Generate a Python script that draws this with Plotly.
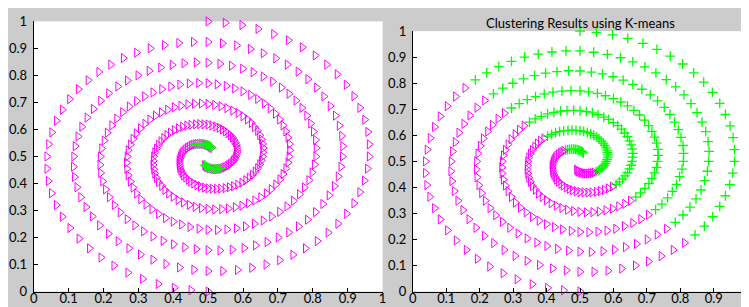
import plotly.graph_objects as go

# ---------------- data ----------------
# spiral A: outer end at top (0.5, 1.0), winding clockwise to the centre
spiral_a_x = [
    0.500, 0.549, 0.597, 0.643, 0.688, 0.730, 0.770, 0.807, 0.840, 0.870, 0.896, 0.918, 0.935, 0.949, 0.958, 0.962, 0.962,
    0.957, 0.948, 0.935, 0.918, 0.897, 0.872, 0.844, 0.813, 0.779, 0.743, 0.705, 0.666, 0.625, 0.584, 0.542, 0.500,
    0.459, 0.418, 0.379, 0.342, 0.306, 0.273, 0.242, 0.214, 0.189, 0.168, 0.150, 0.135, 0.124, 0.117, 0.114, 0.115,
    0.119, 0.127, 0.138, 0.153, 0.171, 0.192, 0.215, 0.241, 0.269, 0.299, 0.331, 0.364, 0.397, 0.431, 0.466, 0.500,
    0.534, 0.567, 0.599, 0.629, 0.658, 0.685, 0.710, 0.732, 0.752, 0.769, 0.783, 0.794, 0.802, 0.808, 0.810, 0.809,
    0.805, 0.798, 0.789, 0.776, 0.762, 0.745, 0.726, 0.705, 0.682, 0.658, 0.633, 0.607, 0.581, 0.554, 0.527, 0.500,
    0.474, 0.448, 0.424, 0.400, 0.378, 0.358, 0.339, 0.322, 0.307, 0.295, 0.285, 0.277, 0.271, 0.267, 0.266, 0.268,
    0.271, 0.277, 0.285, 0.294, 0.306, 0.319, 0.333, 0.349, 0.366, 0.384, 0.403, 0.422, 0.442, 0.461, 0.481, 0.500,
    0.519, 0.537, 0.554, 0.571, 0.586, 0.600, 0.613, 0.624, 0.633, 0.642, 0.648, 0.653, 0.656, 0.658, 0.657, 0.656,
    0.653, 0.648, 0.642, 0.635, 0.627, 0.618, 0.608, 0.597, 0.585, 0.573, 0.561, 0.549, 0.536, 0.524, 0.512, 0.500,
    0.489, 0.478, 0.468, 0.459, 0.450, 0.443, 0.436, 0.430, 0.426, 0.422, 0.419, 0.418, 0.417, 0.417, 0.419, 0.421,
    0.423, 0.427, 0.431, 0.436, 0.441, 0.446, 0.452, 0.457, 0.463, 0.469, 0.475, 0.481, 0.486, 0.491, 0.496, 0.500,
    0.504, 0.507, 0.510,
]
spiral_a_y = [
    1.000, 0.995, 0.986, 0.972, 0.953, 0.930, 0.904, 0.874, 0.840, 0.804, 0.765, 0.723, 0.680, 0.636, 0.591, 0.545, 0.500,
    0.455, 0.411, 0.368, 0.327, 0.288, 0.251, 0.218, 0.187, 0.160, 0.136, 0.116, 0.100, 0.088, 0.080, 0.076, 0.076,
    0.081, 0.089, 0.102, 0.118, 0.137, 0.160, 0.186, 0.214, 0.245, 0.278, 0.313, 0.349, 0.386, 0.424, 0.462, 0.500,
    0.538, 0.574, 0.610, 0.644, 0.676, 0.706, 0.734, 0.759, 0.781, 0.800, 0.817, 0.829, 0.839, 0.845, 0.848, 0.847,
    0.843, 0.836, 0.825, 0.812, 0.796, 0.777, 0.755, 0.732, 0.707, 0.680, 0.651, 0.622, 0.592, 0.561, 0.531, 0.500,
    0.470, 0.441, 0.412, 0.385, 0.360, 0.336, 0.315, 0.295, 0.278, 0.263, 0.251, 0.241, 0.234, 0.230, 0.228, 0.229,
    0.233, 0.239, 0.248, 0.259, 0.272, 0.287, 0.304, 0.322, 0.342, 0.363, 0.385, 0.407, 0.430, 0.454, 0.477, 0.500,
    0.523, 0.544, 0.565, 0.585, 0.604, 0.621, 0.637, 0.651, 0.663, 0.673, 0.682, 0.688, 0.693, 0.695, 0.696, 0.694,
    0.691, 0.686, 0.679, 0.670, 0.661, 0.649, 0.637, 0.624, 0.609, 0.595, 0.579, 0.563, 0.547, 0.531, 0.516, 0.500,
    0.485, 0.471, 0.457, 0.444, 0.432, 0.421, 0.412, 0.403, 0.396, 0.390, 0.386, 0.383, 0.381, 0.380, 0.381, 0.382,
    0.385, 0.389, 0.394, 0.400, 0.407, 0.414, 0.422, 0.430, 0.439, 0.448, 0.457, 0.466, 0.475, 0.484, 0.492, 0.500,
    0.508, 0.515, 0.521, 0.527, 0.532, 0.536, 0.540, 0.543, 0.545, 0.546, 0.547, 0.547, 0.546, 0.545, 0.543, 0.541,
    0.539, 0.536, 0.532,
]

# spiral B: outer end at bottom (0.5, 0.0)
spiral_b_x = [
    0.500, 0.451, 0.403, 0.357, 0.312, 0.270, 0.230, 0.193, 0.160, 0.130, 0.104, 0.082, 0.065, 0.051, 0.042, 0.038, 0.038,
    0.043, 0.052, 0.065, 0.082, 0.103, 0.128, 0.156, 0.187, 0.221, 0.257, 0.295, 0.334, 0.375, 0.416, 0.458, 0.500,
    0.541, 0.582, 0.621, 0.658, 0.694, 0.727, 0.758, 0.786, 0.811, 0.832, 0.850, 0.865, 0.876, 0.883, 0.886, 0.885,
    0.881, 0.873, 0.862, 0.847, 0.829, 0.808, 0.785, 0.759, 0.731, 0.701, 0.669, 0.636, 0.603, 0.569, 0.534, 0.500,
    0.466, 0.433, 0.401, 0.371, 0.342, 0.315, 0.290, 0.268, 0.248, 0.231, 0.217, 0.206, 0.198, 0.192, 0.190, 0.191,
    0.195, 0.202, 0.211, 0.224, 0.238, 0.255, 0.274, 0.295, 0.318, 0.342, 0.367, 0.393, 0.419, 0.446, 0.473, 0.500,
    0.526, 0.552, 0.576, 0.600, 0.622, 0.642, 0.661, 0.678, 0.693, 0.705, 0.715, 0.723, 0.729, 0.733, 0.734, 0.732,
    0.729, 0.723, 0.715, 0.706, 0.694, 0.681, 0.667, 0.651, 0.634, 0.616, 0.597, 0.578, 0.558, 0.539, 0.519, 0.500,
    0.481, 0.463, 0.446, 0.429, 0.414, 0.400, 0.387, 0.376, 0.367, 0.358, 0.352, 0.347, 0.344, 0.342, 0.343, 0.344,
    0.347, 0.352, 0.358, 0.365, 0.373, 0.382, 0.392, 0.403, 0.415, 0.427, 0.439, 0.451, 0.464, 0.476, 0.488, 0.500,
    0.511, 0.522, 0.532, 0.541, 0.550, 0.557, 0.564, 0.570, 0.574, 0.578, 0.581, 0.582, 0.583, 0.583, 0.581, 0.579,
    0.577, 0.573, 0.569, 0.564, 0.559, 0.554, 0.548, 0.543, 0.537, 0.531, 0.525, 0.519, 0.514, 0.509, 0.504, 0.500,
    0.496, 0.493, 0.490,
]
spiral_b_y = [
    0.000, 0.005, 0.014, 0.028, 0.047, 0.070, 0.096, 0.126, 0.160, 0.196, 0.235, 0.277, 0.320, 0.364, 0.409, 0.455, 0.500,
    0.545, 0.589, 0.632, 0.673, 0.712, 0.749, 0.782, 0.813, 0.840, 0.864, 0.884, 0.900, 0.912, 0.920, 0.924, 0.924,
    0.919, 0.911, 0.898, 0.882, 0.863, 0.840, 0.814, 0.786, 0.755, 0.722, 0.687, 0.651, 0.614, 0.576, 0.538, 0.500,
    0.462, 0.426, 0.390, 0.356, 0.324, 0.294, 0.266, 0.241, 0.219, 0.200, 0.183, 0.171, 0.161, 0.155, 0.152, 0.153,
    0.157, 0.164, 0.175, 0.188, 0.204, 0.223, 0.245, 0.268, 0.293, 0.320, 0.349, 0.378, 0.408, 0.439, 0.469, 0.500,
    0.530, 0.559, 0.588, 0.615, 0.640, 0.664, 0.685, 0.705, 0.722, 0.737, 0.749, 0.759, 0.766, 0.770, 0.772, 0.771,
    0.767, 0.761, 0.752, 0.741, 0.728, 0.713, 0.696, 0.678, 0.658, 0.637, 0.615, 0.593, 0.570, 0.546, 0.523, 0.500,
    0.477, 0.456, 0.435, 0.415, 0.396, 0.379, 0.363, 0.349, 0.337, 0.327, 0.318, 0.312, 0.307, 0.305, 0.304, 0.306,
    0.309, 0.314, 0.321, 0.330, 0.339, 0.351, 0.363, 0.376, 0.391, 0.405, 0.421, 0.437, 0.453, 0.469, 0.484, 0.500,
    0.515, 0.529, 0.543, 0.556, 0.568, 0.579, 0.588, 0.597, 0.604, 0.610, 0.614, 0.617, 0.619, 0.620, 0.619, 0.618,
    0.615, 0.611, 0.606, 0.600, 0.593, 0.586, 0.578, 0.570, 0.561, 0.552, 0.543, 0.534, 0.525, 0.516, 0.508, 0.500,
    0.492, 0.485, 0.479, 0.473, 0.468, 0.464, 0.460, 0.457, 0.455, 0.454, 0.453, 0.453, 0.454, 0.455, 0.457, 0.459,
    0.461, 0.464, 0.468,
]

# K-means cluster of each point (1 = green "+", 0 = magenta triangle), read per point
cluster_a_str = (
    "111111111111" "111111111111" "0000000000000000" "0000000000000000" "11111111"
    "111111111111" "111111111111" "0000000000000000" "0000000000000000" "11111111"
    "111111111111" "111111111111" "0000000000000000" "0000000000000000" "11111111"
    "1111"
)
cluster_b_str = (
    "000000000000" "000000000000" "1111111111111111" "1111111111111111" "00000000"
    "000000000000" "000000000000" "1111111111111111" "1111111111111111" "00000000"
    "000000000000" "000000000000" "1111111111111111" "1111111111111111" "00000000"
    "0000"
)
cluster_a = [int(c) for c in cluster_a_str]
cluster_b = [int(c) for c in cluster_b_str]

# left panel: innermost points that are marked with a green "+"
marked_from = 185

tick_vals = [0, 0.1, 0.2, 0.3, 0.4, 0.5, 0.6, 0.7, 0.8, 0.9, 1]
tick_text = ["0", "0.1", "0.2", "0.3", "0.4", "0.5", "0.6", "0.7", "0.8", "0.9", "1"]
title_text = "Clustering Results using K-means"

# ---------------- styling ----------------
MAGENTA = "#ff00ff"
GREEN = "#00ff00"
BG = "#cccccc"
FONT = "Lato"

W, H = 749, 307


def tri(xs, ys, xa, ya):
    return go.Scatter(
        x=xs, y=ys, mode="markers", xaxis=xa, yaxis=ya, cliponaxis=False,
        marker=dict(symbol="triangle-right-open", size=8, color=MAGENTA,
                    line=dict(color=MAGENTA, width=1)),
        showlegend=False, hoverinfo="skip",
    )


def plus(xs, ys, xa, ya):
    return go.Scatter(
        x=xs, y=ys, mode="markers", xaxis=xa, yaxis=ya, cliponaxis=False,
        marker=dict(symbol="cross-thin", size=7, color=GREEN,
                    line=dict(color=GREEN, width=1.3)),
        showlegend=False, hoverinfo="skip",
    )


all_x = spiral_a_x + spiral_b_x
all_y = spiral_a_y + spiral_b_y
all_c = cluster_a + cluster_b

fig = go.Figure()

# left panel: all points as triangles, innermost ones marked with "+"
fig.add_trace(tri(all_x, all_y, "x", "y"))
fig.add_trace(plus(spiral_a_x[marked_from:] + spiral_b_x[marked_from:],
                   spiral_a_y[marked_from:] + spiral_b_y[marked_from:], "x", "y"))

# right panel: K-means clusters
gx = [x for x, c in zip(all_x, all_c) if c == 1]
gy = [y for y, c in zip(all_y, all_c) if c == 1]
mx = [x for x, c in zip(all_x, all_c) if c == 0]
my = [y for y, c in zip(all_y, all_c) if c == 0]
fig.add_trace(plus(gx, gy, "x2", "y2"))
fig.add_trace(tri(mx, my, "x2", "y2"))

axis_common = dict(
    range=[0, 1], showgrid=False, zeroline=False, showline=True,
    linecolor="black", linewidth=1, mirror=False,
    ticks="inside", ticklen=4, tickwidth=1, tickcolor="black",
    tickvals=tick_vals, ticktext=tick_text,
    tickfont=dict(family=FONT, size=13, color="black"),
    fixedrange=True,
)
xaxis_extra = dict(ticklabelstandoff=-5)
yaxis_extra = dict(ticklabelstandoff=3)

fig.update_layout(
    width=W, height=H,
    margin=dict(l=0, r=0, t=0, b=0),
    paper_bgcolor=BG, plot_bgcolor="white",
    xaxis=dict(domain=[22 / W, 374.6 / W], anchor="y", **axis_common, **xaxis_extra),
    yaxis=dict(domain=[(H - 290.7) / H, (H - 5.7) / H], anchor="x", **axis_common, **yaxis_extra),
    xaxis2=dict(domain=[405.2 / W, 743.1 / W], anchor="y2", **axis_common, **xaxis_extra),
    yaxis2=dict(domain=[(H - 290.7) / H, (H - 16) / H], anchor="x2", **axis_common, **yaxis_extra),
    annotations=[dict(
        text=title_text, xref="paper", yref="paper",
        x=574.2 / W, y=(H - 7) / H, xanchor="center", yanchor="middle",
        showarrow=False, font=dict(family=FONT, size=13, color="black"),
    )],
)

fig.write_html("out.html")
